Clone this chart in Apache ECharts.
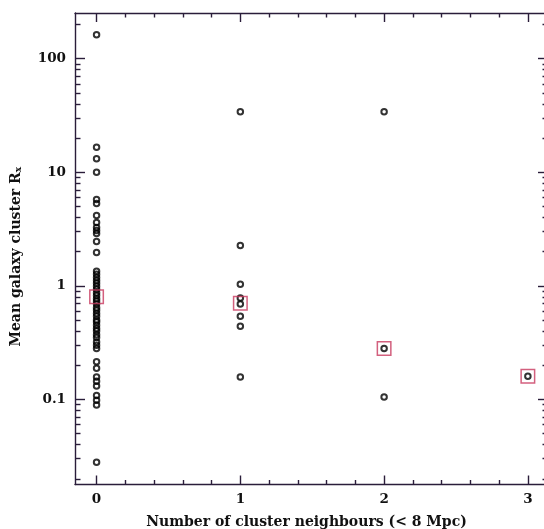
<!DOCTYPE html>
<html><head><meta charset="utf-8">
<script src="https://cdn.jsdelivr.net/npm/echarts@6/dist/echarts.min.js"></script>
<style>html,body{margin:0;padding:0;background:#fff}#c{width:544px;height:529px}</style>
</head><body><div id="c"></div>
<script>
// ---- data ----
const neighbours = [0, 1, 2, 3];
const rx0 = [162, 16.6, 13.1, 10.0, 5.74, 5.30, 4.15, 3.61, 3.26, 3.07, 2.88, 2.45, 1.96,
  1.34, 1.26, 1.18, 1.11, 1.05, 0.99, 0.93, 0.87, 0.82, 0.77, 0.73, 0.69, 0.64, 0.61,
  0.57, 0.54, 0.50, 0.48, 0.45, 0.42, 0.40, 0.37, 0.35, 0.32, 0.30, 0.28,
  0.214, 0.188, 0.157, 0.144, 0.131, 0.108, 0.098, 0.089, 0.028];
const rx1 = [34.1, 2.26, 1.03, 0.78, 0.69, 0.54, 0.44, 0.157];
const rx2 = [34.1, 0.28, 0.105];
const rx3 = [0.16];
const meanRx = [0.80, 0.70, 0.28, 0.16];
const xTickLabels = [0, 1, 2, 3];
const xMinorTicks = [0.2, 0.4, 0.6, 0.8, 1.2, 1.4, 1.6, 1.8, 2.2, 2.4, 2.6, 2.8];
const yMajorTicks = [0.1, 1, 10, 100];
const yMinorTicks = [0.02, 0.03, 0.04, 0.05, 0.06, 0.07, 0.08, 0.09,
  0.2, 0.3, 0.4, 0.5, 0.6, 0.7, 0.8, 0.9,
  2, 3, 4, 5, 6, 7, 8, 9,
  20, 30, 40, 50, 60, 70, 80, 90, 200];

// ---- build ----
const FRAME = '#2a1d3a';
const FONT = 'DejaVu Serif';
const X_MIN = -0.15, X_MAX = 3.14, Y_MIN = 0.0178, Y_MAX = 252;

const columns = [rx0, rx1, rx2, rx3];
const pointData = [];
columns.forEach((vals, i) => vals.forEach(v => pointData.push([neighbours[i], v])));
const meanData = meanRx.map((v, i) => [neighbours[i], v]);

function xAx(pos, ticks, len, main) {
  return {
    type: 'value', position: pos, min: X_MIN, max: X_MAX, gridIndex: 0,
    splitLine: { show: false },
    axisLine: { show: main, onZero: false, lineStyle: { color: FRAME, width: 1.4 } },
    axisTick: { show: true, inside: true, length: len, customValues: ticks,
      lineStyle: { color: FRAME, width: 1.4 } },
    axisLabel: { show: main && pos === 'bottom', customValues: xTickLabels, margin: 8,
      color: '#111', fontFamily: FONT, fontWeight: 'bold', fontSize: 13.5 },
    name: (main && pos === 'bottom') ? 'Number of cluster neighbours (< 8 Mpc)' : '',
    nameLocation: 'middle', nameGap: 31,
    nameTextStyle: { color: '#111', fontFamily: FONT, fontWeight: 'bold', fontSize: 14,
      padding: [0, 10, 0, 0] }
  };
}
function yAx(pos, ticks, len, main) {
  return {
    type: 'log', logBase: 10, position: pos, min: Y_MIN, max: Y_MAX, gridIndex: 0,
    splitLine: { show: false },
    axisLine: { show: main, onZero: false, lineStyle: { color: FRAME, width: 1.4 } },
    axisTick: { show: true, inside: true, length: len, customValues: ticks,
      lineStyle: { color: FRAME, width: 1.4 } },
    axisLabel: { show: main && pos === 'left', customValues: yMajorTicks, margin: 9,
      formatter: v => String(v),
      color: '#111', fontFamily: FONT, fontWeight: 'bold', fontSize: 13.5 },
    name: (main && pos === 'left') ? '{t|Mean galaxy cluster R}{s|x}' : '',
    nameLocation: 'middle', nameGap: 52,
    nameTextStyle: {
      color: '#111', fontFamily: FONT, fontWeight: 'bold', fontSize: 14,
      padding: [0, 16, 0, 0],
      rich: {
        t: { fontFamily: FONT, fontWeight: 'bold', fontSize: 14, lineHeight: 14, color: '#111' },
        s: { fontFamily: FONT, fontWeight: 'bold', fontSize: 9, lineHeight: 9, color: '#111',
             verticalAlign: 'bottom', padding: [8, 0, 0, 0] }
      }
    }
  };
}

const chart = echarts.init(document.getElementById('c'), null, { renderer: 'canvas' });
chart.setOption({
  animation: false,
  backgroundColor: '#ffffff',
  grid: { left: 75, top: 13, right: -4, bottom: 44.5, containLabel: false, outerBoundsMode: 'none' },
  xAxis: [
    xAx('bottom', xTickLabels, 9, true),
    xAx('bottom', xMinorTicks, 4.5, false),
    xAx('top', xTickLabels, 9, true),
    xAx('top', xMinorTicks, 4.5, false)
  ],
  yAxis: [
    yAx('left', yMajorTicks, 10, true),
    yAx('left', yMinorTicks, 5.5, false),
    yAx('right', yMajorTicks, 10, true),
    yAx('right', yMinorTicks, 5.5, false)
  ],
  series: [
    {
      type: 'scatter', xAxisIndex: 0, yAxisIndex: 0, data: pointData,
      symbol: 'circle', symbolSize: 5.5,
      itemStyle: { color: 'rgba(0,0,0,0)', borderColor: '#000', borderWidth: 2 },
      z: 3
    },
    {
      type: 'scatter', xAxisIndex: 0, yAxisIndex: 0, data: meanData,
      symbol: 'rect', symbolSize: 13.5,
      itemStyle: { color: 'rgba(0,0,0,0)', borderColor: '#c8385e', borderWidth: 1.5 },
      z: 4
    }
  ]
});
</script>
</body></html>
